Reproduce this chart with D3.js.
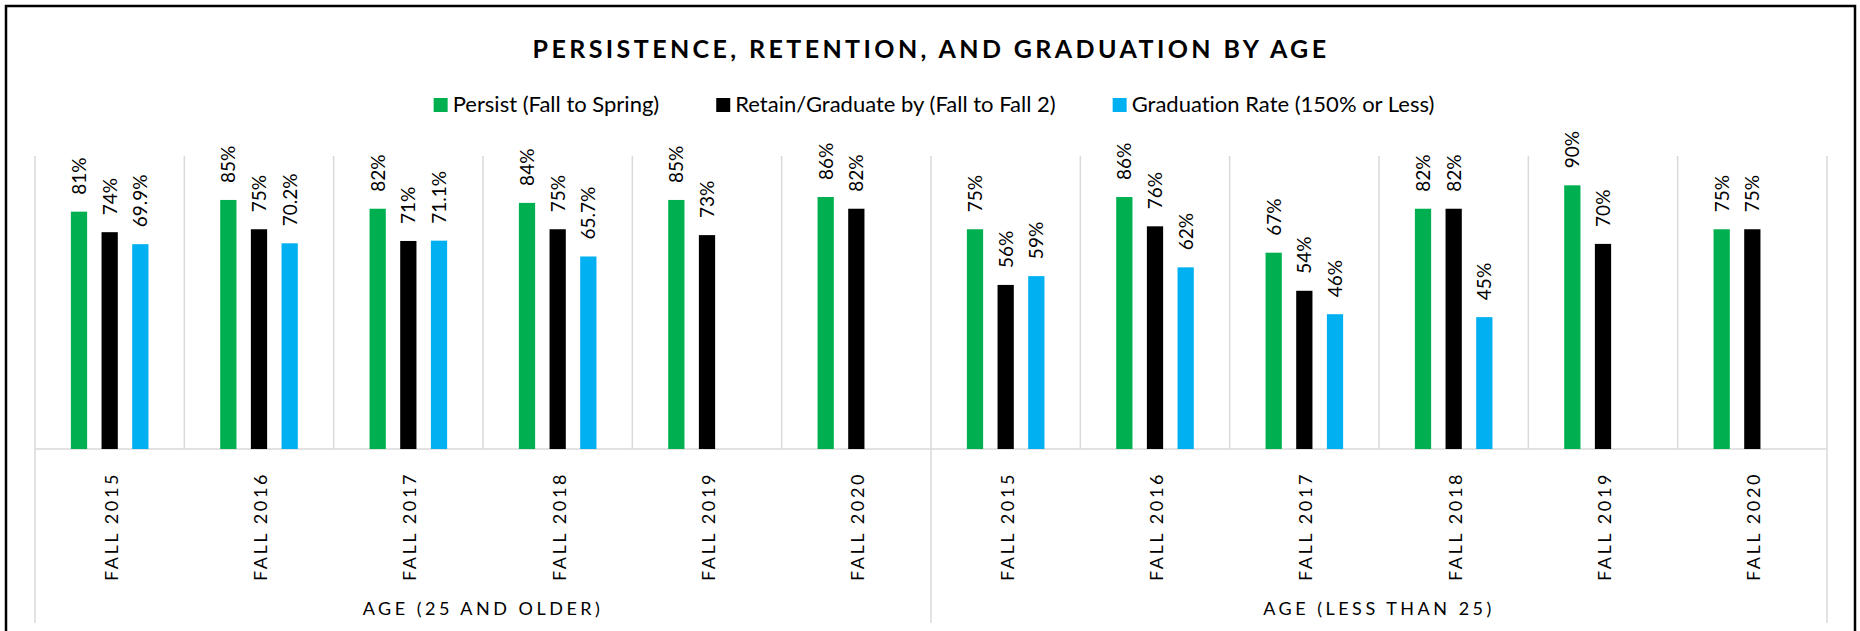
<!DOCTYPE html>
<html>
<head>
<meta charset="utf-8">
<script src="https://cdn.jsdelivr.net/npm/d3@7"></script>
<style>
  body { margin: 0; background: #fff; }
  text { font-family: Lato, "Open Sans", sans-serif; fill: #000; }
</style>
</head>
<body>
<div id="chart"></div>
<script>
var svgWidth = 1860;
var svgHeight = 631;

// data
var groups = ["AGE (25 AND OLDER)", "AGE (LESS THAN 25)"];
var terms = ["FALL 2015", "FALL 2016", "FALL 2017", "FALL 2018", "FALL 2019", "FALL 2020"];
var seriesNames = ["Persist (Fall to Spring)", "Retain/Graduate by (Fall to Fall 2)", "Graduation Rate (150% or Less)"];
var seriesColors = ["#00b050", "#000000", "#00b0f0"];

// values in %, one entry per term, first group then second group
var persist = [81, 85, 82, 84, 85, 86, 75, 86, 67, 82, 90, 75];
var retain = [74, 75, 71, 75, 73, 82, 56, 76, 54, 82, 70, 75];
var gradRate = [69.9, 70.2, 71.1, 65.7, null, null, 59, 62, 46, 45, null, null];

var margin = { top: 156, left: 35, right: 33 };
var baseline = 449;

var svg = d3.select("#chart")
  .append("svg")
  .attr("width", svgWidth)
  .attr("height", svgHeight);

// outer frame (bottom edge is cut off in the original)
svg.append("path")
  .attr("d", `M6,${svgHeight} V6 H1855 V${svgHeight}`)
  .attr("fill", "none")
  .attr("stroke", "#000")
  .attr("stroke-width", 2.5);

// build rows from the arrays
var rows = [];
groups.forEach(function(g, gi) {
  terms.forEach(function(t, ti) {
    var i = gi * terms.length + ti;
    rows.push({ key: g + "|" + t, group: g, term: t, values: [persist[i], retain[i], gradRate[i]] });
  });
});

var x0 = d3.scaleBand()
  .domain(rows.map(d => d.key))
  .range([margin.left, svgWidth - margin.right])
  .padding(0);

var x1 = d3.scaleBand()
  .domain(d3.range(seriesNames.length))
  .range([0, x0.bandwidth()])
  .paddingInner(0.47)
  .paddingOuter(1.17);

var y = d3.scaleLinear()
  .domain([0, 100])
  .range([baseline, margin.top]);

var grid = "#d9d9d9";

// vertical gridlines between categories
var bounds = rows.map(d => x0(d.key)).concat([x0.range()[1]]);
svg.append("g").selectAll("line")
  .data(bounds)
  .enter()
  .append("line")
  .attr("x1", d => d).attr("x2", d => d)
  .attr("y1", y(100)).attr("y2", baseline)
  .attr("stroke", grid)
  .attr("stroke-width", 1.5);

// group separators below the axis
var groupBounds = [x0.range()[0], x0(rows[terms.length].key), x0.range()[1]];
svg.append("g").selectAll("line")
  .data(groupBounds)
  .enter()
  .append("line")
  .attr("x1", d => d).attr("x2", d => d)
  .attr("y1", baseline).attr("y2", 623)
  .attr("stroke", grid)
  .attr("stroke-width", 1.5);

// baseline
svg.append("line")
  .attr("x1", x0.range()[0]).attr("x2", x0.range()[1])
  .attr("y1", baseline).attr("y2", baseline)
  .attr("stroke", grid)
  .attr("stroke-width", 1.5);

// bars
var cat = svg.append("g").selectAll("g")
  .data(rows)
  .enter()
  .append("g")
  .attr("transform", d => `translate(${x0(d.key)},0)`);

var cells = cat.selectAll("g")
  .data(d => d.values.map((v, i) => ({ i: i, v: v })).filter(e => e.v !== null))
  .enter()
  .append("g");

cells.append("rect")
  .attr("x", d => x1(d.i))
  .attr("y", d => y(d.v))
  .attr("width", x1.bandwidth())
  .attr("height", d => baseline - y(d.v))
  .attr("fill", d => seriesColors[d.i]);

// value labels, rotated
cells.append("text")
  .attr("transform", d => `translate(${x1(d.i) + x1.bandwidth() / 2 + 7},${y(d.v) - 17}) rotate(-90)`)
  .attr("font-size", "19px")
  .text(d => (Number.isInteger(d.v) ? d.v : d.v.toFixed(1)) + "%");

// term labels
svg.append("g").selectAll("text")
  .data(rows)
  .enter()
  .append("text")
  .attr("transform", d => `translate(${x0(d.key) + x0.bandwidth() / 2 + 8},472) rotate(-90)`)
  .attr("text-anchor", "end")
  .attr("font-size", "18px")
  .attr("letter-spacing", "2.6px")
  .text(d => d.term);

// group labels
svg.append("g").selectAll("text")
  .data(groups)
  .enter()
  .append("text")
  .attr("x", (d, i) => (groupBounds[i] + groupBounds[i + 1]) / 2)
  .attr("y", 615)
  .attr("text-anchor", "middle")
  .attr("font-size", "18px")
  .attr("letter-spacing", "3.5px")
  .text(d => d);

// title
svg.append("text")
  .attr("x", 931)
  .attr("y", 58)
  .attr("text-anchor", "middle")
  .attr("font-size", "25px")
  .attr("font-weight", "bold")
  .attr("letter-spacing", "3.4px")
  .text("PERSISTENCE, RETENTION, AND GRADUATION BY AGE");

// legend, centred under the title
var legend = svg.append("g");
var items = legend.selectAll("g")
  .data(seriesNames)
  .enter()
  .append("g");

items.append("rect")
  .attr("width", 14).attr("height", 14)
  .attr("y", 98)
  .attr("fill", (d, i) => seriesColors[i]);

items.append("text")
  .attr("x", 19)
  .attr("y", 112)
  .attr("font-size", "22px")
  .style("font-variant-ligatures", "none")
  .text(d => d);

var pos = 0;
var gap = 57;
items.each(function() {
  var w = this.getBBox().width;
  d3.select(this).attr("transform", `translate(${pos},0)`);
  pos += w + gap;
});
legend.attr("transform", `translate(${934 - (pos - gap) / 2},0)`);
</script>
</body>
</html>
